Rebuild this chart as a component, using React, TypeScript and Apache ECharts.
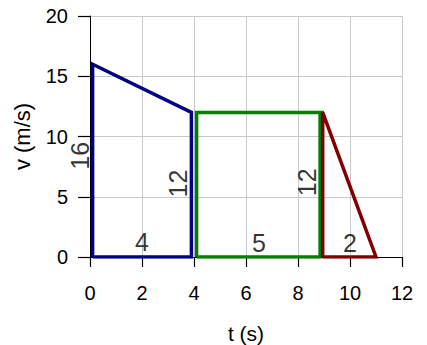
import React, { useEffect, useRef } from "react";
import * as echarts from "echarts";

const bluePoly: [number, number][] = [[0.1, 0], [0.1, 16], [3.9, 12], [3.9, 0], [0.1, 0]];
const greenPoly: [number, number][] = [[4.1, 0], [4.1, 12], [9.0, 12], [8.85, 12], [8.85, 0], [4.1, 0]];
const redPoly: [number, number][] = [[8.95, 0], [8.95, 12], [11, 0], [8.95, 0]];

const labelTexts = ["16", "12", "12", "4", "5", "2"];
const labelXs = [0, 3.38, 8.35, 2, 6.5, 10];
const labelYs = [8.4, 6.1, 6.2, 1.25, 1.2, 1.2];
const labelRotations = [90, 90, 90, 0, 0, 0];
const labelShiftX = [-10, 0, 0, 0, 0, 0];

const FONT = "Liberation Sans, Arial, sans-serif";

export default function App() {
  const ref = useRef<HTMLDivElement>(null);
  useEffect(() => {
    if (!ref.current) return;
    const chart = echarts.init(ref.current, undefined, { renderer: "svg" });
    const lineSeries = (data: [number, number][], color: string) => ({
      type: "line",
      data,
      symbol: "none",
      lineStyle: { color, width: 3.5, join: "miter" },
      z: 3,
    });
    chart.setOption({
      animation: false,
      grid: { left: 90, right: 25, top: 16, bottom: 88, containLabel: false, outerBoundsMode: "none" },
      xAxis: {
        type: "value",
        min: 0,
        max: 12,
        interval: 2,
        name: "t (s)",
        nameLocation: "middle",
        nameGap: 66,
        nameTextStyle: { fontSize: 21, color: "#000", fontFamily: FONT },
        axisLine: { show: true, onZero: false, lineStyle: { color: "#000", width: 1 } },
        axisTick: { show: true, inside: false, length: 10, lineStyle: { color: "#000", width: 1.2 } },
        axisLabel: { fontSize: 20, color: "#000", margin: 26, fontFamily: FONT },
        splitLine: { show: true, lineStyle: { color: "#c8c8c8", width: 1 } },
      },
      yAxis: {
        type: "value",
        min: 0,
        max: 20,
        interval: 5,
        name: "v (m/s)",
        nameLocation: "middle",
        nameGap: 57,
        nameTextStyle: { fontSize: 22, color: "#000", fontFamily: FONT },
        axisLine: { show: true, onZero: false, lineStyle: { color: "#000", width: 1 } },
        axisTick: { show: true, inside: false, length: 12, lineStyle: { color: "#000", width: 1.2 } },
        axisLabel: { fontSize: 20, color: "#000", margin: 22, fontFamily: FONT },
        splitLine: { show: true, lineStyle: { color: "#c8c8c8", width: 1 } },
      },
      series: [
        lineSeries(bluePoly, "#000080"),
        lineSeries(greenPoly, "#008000"),
        lineSeries(redPoly, "#800000"),
        {
          type: "scatter",
          symbolSize: 0,
          z: 5,
          clip: false,
          data: labelTexts.map((t, i) => ({
            value: [labelXs[i], labelYs[i]],
            name: t,
            label: {
              show: true,
              position: "inside",
              offset: [0, labelShiftX[i]],
              formatter: t,
              rotate: labelRotations[i],
              fontSize: 25,
              color: "#000",
              fontFamily: FONT,
            },
          })),
        },
      ],
    });
    return () => chart.dispose();
  }, []);
  return (
    <div
      ref={ref}
      style={{ position: "absolute", left: 0, top: 0, width: 427, height: 345 }}
    />
  );
}
